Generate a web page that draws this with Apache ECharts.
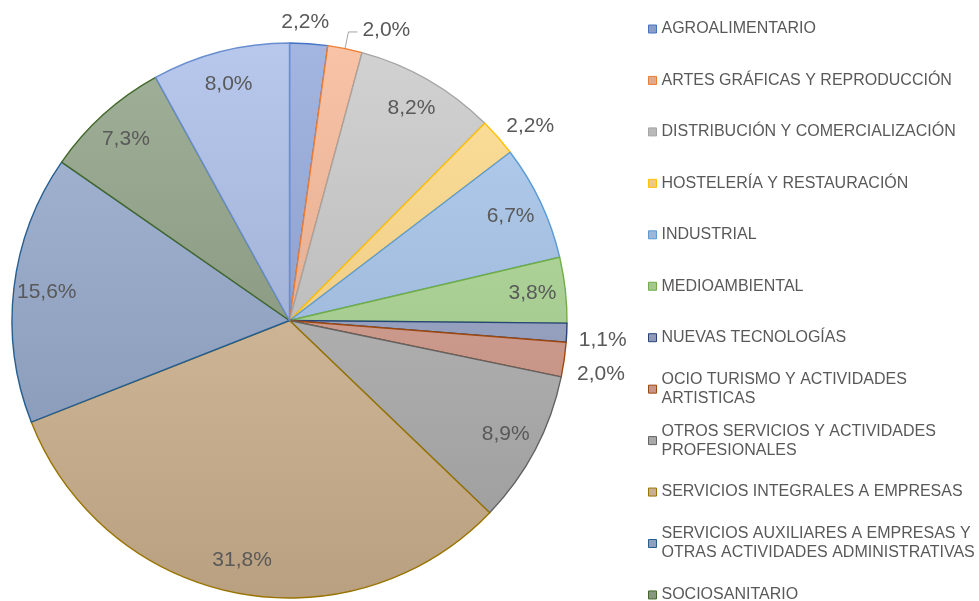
<!DOCTYPE html>
<html>
<head>
<meta charset="utf-8">
<script src="https://cdn.jsdelivr.net/npm/echarts@6/dist/echarts.min.js"></script>
<style>
html, body { margin: 0; padding: 0; background: #fff; }
#pieSectores { width: 979px; height: 601px; }
</style>
</head>
<body>
<div id="pieSectores"></div>
<script>
// sectores (orden de la leyenda y de los sectores, en sentido horario desde arriba)
const sectores = [
    'AGROALIMENTARIO',
    'ARTES GRÁFICAS Y REPRODUCCIÓN',
    'DISTRIBUCIÓN Y COMERCIALIZACIÓN',
    'HOSTELERÍA Y RESTAURACIÓN',
    'INDUSTRIAL',
    'MEDIOAMBIENTAL',
    'NUEVAS TECNOLOGÍAS',
    'OCIO TURISMO Y ACTIVIDADES ARTISTICAS',
    'OTROS SERVICIOS Y ACTIVIDADES PROFESIONALES',
    'SERVICIOS INTEGRALES A EMPRESAS',
    'SERVICIOS AUXILIARES A EMPRESAS Y OTRAS ACTIVIDADES ADMINISTRATIVAS',
    'SOCIOSANITARIO',
    'TRANSPORTE Y LOGÍSTICA'
];
// porcentajes
const porcentajes = [2.2, 2.0, 8.2, 2.2, 6.7, 3.8, 1.1, 2.0, 8.9, 31.8, 15.6, 7.3, 8.0];

// borde de cada sector
const coloresBase = ['#4472c4', '#ed7d31', '#a5a5a5', '#ffc000', '#5b9bd5', '#70ad47',
    '#264478', '#9e480e', '#636363', '#997300', '#255e91', '#43682b', '#698ed0'];
// relleno (tono medio, el degradado aclara arriba y oscurece abajo)
const rellenos = [
    [143, 162, 206], [229, 175, 147], [190, 190, 190], [243, 206, 136], [161, 188, 220],
    [167, 205, 147], [149, 160, 190], [204, 153, 141], [174, 174, 174], [205, 180, 148],
    [148, 165, 196], [141, 156, 132], [163, 180, 216]
];

const labelColor = '#595959';
const fuente = '"Liberation Sans", Arial, sans-serif';

// saltos de linea de la leyenda
const leyendaTexto = {
    'OCIO TURISMO Y ACTIVIDADES ARTISTICAS': 'OCIO TURISMO Y ACTIVIDADES\nARTISTICAS',
    'OTROS SERVICIOS Y ACTIVIDADES PROFESIONALES': 'OTROS SERVICIOS Y ACTIVIDADES\nPROFESIONALES',
    'SERVICIOS AUXILIARES A EMPRESAS Y OTRAS ACTIVIDADES ADMINISTRATIVAS': 'SERVICIOS AUXILIARES A EMPRESAS Y\nOTRAS ACTIVIDADES ADMINISTRATIVAS'
};

// etiquetas fuera del sector
const fuera = {
    0: { length: 22, length2: 0, dist: -29, line: false },
    1: { length: 17, length2: 9, dist: 5, line: true, dy: -2 },
    3: { length: 19, length2: 0, dist: -6, line: false, dy: 1 },
    6: { length: 13, length2: 0, dist: -1, line: false, dy: 7 },
    7: { length: 14, length2: 0, dist: -1, line: false, dy: 13 }
};

function tono(c, d) {
    const f = v => Math.max(0, Math.min(255, Math.round(v + d)));
    return 'rgb(' + f(c[0]) + ',' + f(c[1]) + ',' + f(c[2]) + ')';
}

const R = 277.5, CX = 289.5, CY = 320.5;

let myChart = echarts.init(document.getElementById('pieSectores'));

const dataPie = sectores.map(function (n, i) {
    return {
        name: n,
        value: porcentajes[i],
        itemStyle: {
            color: new echarts.graphic.LinearGradient(0, CY - R, 0, CY + R, [
                { offset: 0, color: tono(rellenos[i], 20) },
                { offset: 1, color: tono(rellenos[i], -20) }
            ], true),
            borderColor: coloresBase[i],
            borderWidth: 1.4
        }
    };
});

const dataEtiquetas = sectores.map(function (n, i) {
    const o = fuera[i];
    const d = { name: n, value: porcentajes[i] };
    if (o) {
        d.label = { position: 'outside', distanceToLabelLine: o.dist };
        d.labelLine = { show: o.line, length: o.length, length2: o.length2 };
    }
    return d;
});

const leyendaData = sectores.map(function (n, i) {
    const dos = !!leyendaTexto[n];
    return {
        name: n,
        itemStyle: { color: tono(rellenos[i], -5), borderColor: coloresBase[i], borderWidth: 1 },
        textStyle: { padding: dos ? [19, 0, 0, 0] : [19, 0, 19, 0] }
    };
});

myChart.setOption({
    animation: false,
    backgroundColor: '#ffffff',
    legend: {
        orient: 'vertical',
        left: 648,
        top: 0.5,
        height: 700,
        padding: 0,
        itemGap: -5.55,
        itemWidth: 8,
        itemHeight: 8,
        icon: 'rect',
        selectedMode: false,
        data: leyendaData,
        formatter: function (name) {
            return leyendaTexto[name] || name;
        },
        textStyle: {
            color: labelColor,
            fontSize: 16,
            lineHeight: 19,
            fontFamily: fuente
        }
    },
    series: [{
        name: 'sectores',
        type: 'pie',
        center: [CX, CY],
        radius: R,
        startAngle: 90,
        clockwise: true,
        silent: true,
        label: { show: false },
        labelLine: { show: false },
        emphasis: { disabled: true },
        data: dataPie
    }, {
        name: 'etiquetas',
        type: 'pie',
        center: [CX, CY],
        radius: [R * 0.74, R],
        startAngle: 90,
        clockwise: true,
        silent: true,
        avoidLabelOverlap: false,
        itemStyle: { color: 'rgba(0,0,0,0)', borderWidth: 0 },
        emphasis: { disabled: true },
        label: {
            show: true,
            position: 'inside',
            color: labelColor,
            fontSize: 21,
            fontFamily: fuente,
            formatter: function (p) {
                return p.value.toFixed(1).replace('.', ',') + '%';
            }
        },
        labelLine: {
            lineStyle: { color: '#a6a6a6', width: 1 }
        },
        labelLayout: function (p) {
            const o = fuera[p.dataIndex];
            return o && o.dy ? { dy: o.dy } : {};
        },
        data: dataEtiquetas
    }]
});
</script>
</body>
</html>
